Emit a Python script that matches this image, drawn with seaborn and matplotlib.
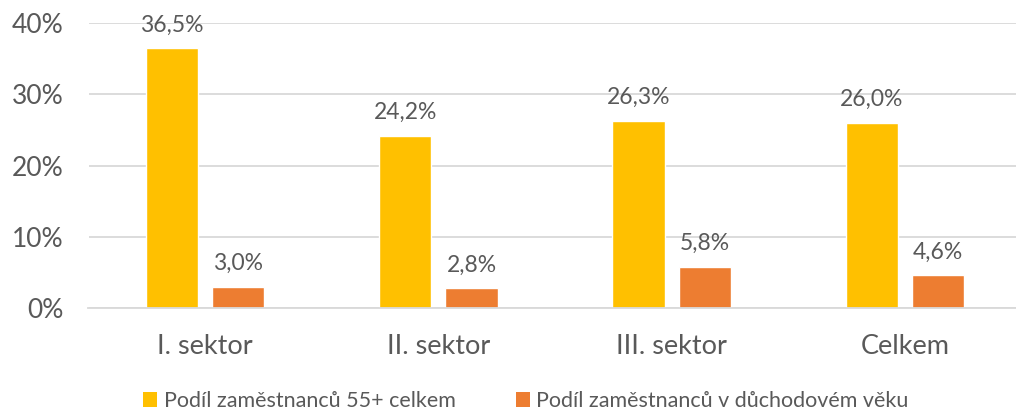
import matplotlib
matplotlib.use("Agg")
import matplotlib.pyplot as plt
import seaborn as sns
import pandas as pd
from matplotlib.patches import Patch

categories = ["I. sektor", "II. sektor", "III. sektor", "Celkem"]
series_names = ["Podíl zaměstnanců 55+ celkem", "Podíl zaměstnanců v důchodovém věku"]
share_55plus = [36.5, 24.2, 26.3, 26.0]
share_retirement = [3.0, 2.8, 5.8, 4.6]
y_ticks = [0, 10, 20, 30, 40]
colors = ["#FFC000", "#ED7D31"]

df = pd.DataFrame({
    "kategorie": categories * 2,
    "serie": [series_names[0]] * 4 + [series_names[1]] * 4,
    "hodnota": share_55plus + share_retirement,
})

sns.set_theme(style="white")
plt.rcParams["font.family"] = ["Lato", "DejaVu Sans"]
text_color = "#595959"

fig = plt.figure(figsize=(10.16, 4.12), dpi=100)
W, H = 1016, 412
ax = fig.add_axes([88.5 / W, (H - 308) / H, (1021.5 - 88.5) / W, (308 - 23) / H])

sns.barplot(data=df, x="kategorie", y="hodnota", hue="serie",
            palette=colors, width=0.567, gap=0.21, saturation=1,
            order=categories, hue_order=series_names, ax=ax, legend=False)

ax.set_ylim(0, 40)
ax.set_xlim(-0.5, 3.5)
ax.set_yticks(y_ticks)
ax.set_yticklabels([f"{t}%" for t in y_ticks])
ax.yaxis.grid(True, color="#D9D9D9", linewidth=1.3)
ax.set_axisbelow(True)
for s in ["top", "right", "left"]:
    ax.spines[s].set_visible(False)
ax.spines["bottom"].set_color("#D9D9D9")
ax.spines["bottom"].set_linewidth(1.3)
ax.set_xlabel("")
ax.set_ylabel("")
ax.tick_params(axis="y", length=0, pad=18, labelsize=19, labelcolor=text_color)
ax.tick_params(axis="x", length=0, pad=19, labelsize=19.5, labelcolor=text_color)

for container in ax.containers:
    labels = [f"{v:.1f}%".replace(".", ",") for v in container.datavalues]
    ax.bar_label(container, labels=labels, padding=9, fontsize=16.5, color=text_color)

handles = [Patch(facecolor=c, edgecolor="none") for c in colors]
fig.legend(handles, series_names, loc="center", bbox_to_anchor=(526 / W, 1 - 401 / H),
           ncol=2, frameon=False, fontsize=15.5, labelcolor=text_color,
           handlelength=0.65, handleheight=0.65, handletextpad=0.3, columnspacing=2.8)

fig.savefig("out.png", dpi=100)
